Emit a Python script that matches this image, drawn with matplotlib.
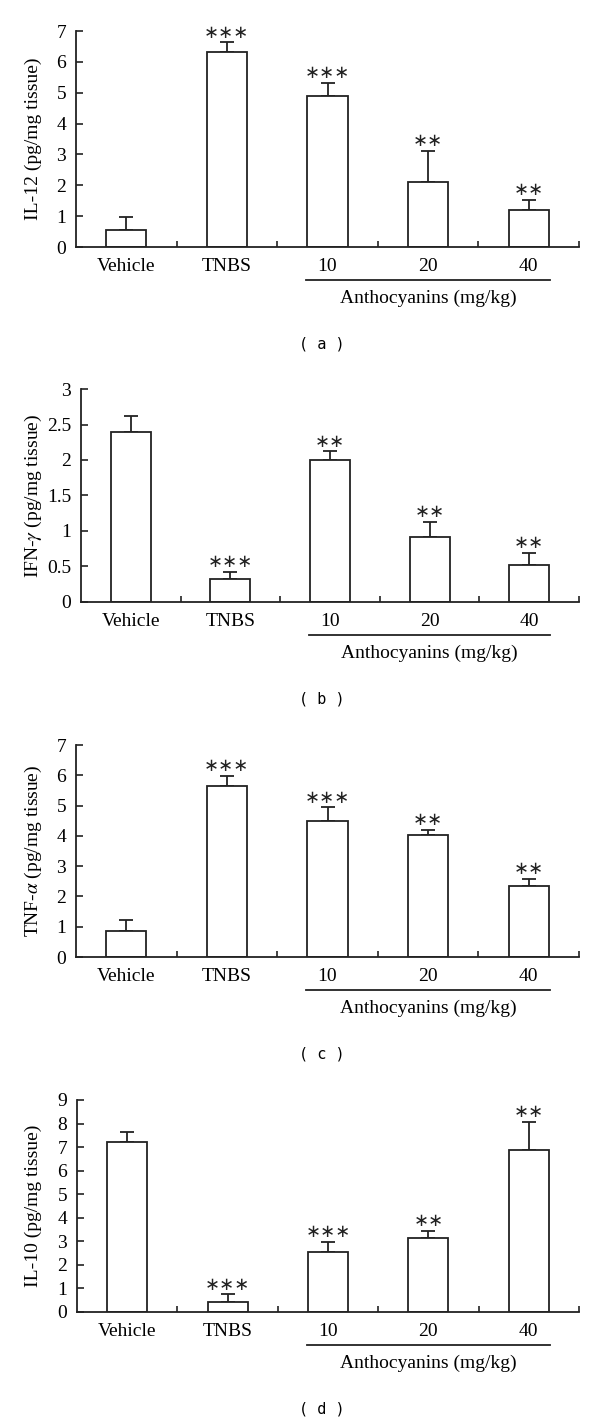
import numpy as np
import matplotlib
matplotlib.use("Agg")
import matplotlib.pyplot as plt

plt.rcParams["font.family"] = "Liberation Serif"
plt.rcParams["mathtext.fontset"] = "stix"

groups = ["Vehicle", "TNBS", "10", "20", "40"]

il12_mean = [0.54, 6.33, 4.88, 2.11, 1.20]
il12_err = [0.42, 0.30, 0.44, 1.00, 0.32]
il12_sig = ["", "***", "***", "**", "**"]

ifng_mean = [2.40, 0.33, 2.00, 0.91, 0.52]
ifng_err = [0.22, 0.09, 0.12, 0.22, 0.17]
ifng_sig = ["", "***", "**", "**", "**"]

tnfa_mean = [0.87, 5.66, 4.48, 4.04, 2.33]
tnfa_err = [0.34, 0.31, 0.46, 0.16, 0.26]
tnfa_sig = ["", "***", "***", "**", "**"]

il10_mean = [7.22, 0.44, 2.53, 3.14, 6.86]
il10_err = [0.42, 0.31, 0.44, 0.31, 1.22]
il10_sig = ["", "***", "***", "**", "**"]

panels = [
    ("IL-12 (pg/mg tissue)", il12_mean, il12_err, il12_sig, 7, [0, 1, 2, 3, 4, 5, 6, 7],
     ["0", "1", "2", "3", "4", "5", "6", "7"], "( a )"),
    ("IFN-$\\mathit{\\gamma}$ (pg/mg tissue)", ifng_mean, ifng_err, ifng_sig, 3,
     [0, 0.5, 1, 1.5, 2, 2.5, 3], ["0", "0.5", "1", "1.5", "2", "2.5", "3"], "( b )"),
    ("TNF-$\\mathit{\\alpha}$ (pg/mg tissue)", tnfa_mean, tnfa_err, tnfa_sig, 7, [0, 1, 2, 3, 4, 5, 6, 7],
     ["0", "1", "2", "3", "4", "5", "6", "7"], "( c )"),
    ("IL-10 (pg/mg tissue)", il10_mean, il10_err, il10_sig, 9, list(range(10)),
     [str(i) for i in range(10)], "( d )"),
]

# pixel layout of each panel: (left, right, y of zero, y of top)
W, H = 600, 1424
boxes = [(76, 579, 247, 31), (81, 579, 602, 389), (76, 579, 957, 745), (77, 579, 1312, 1100)]

fig = plt.figure(figsize=(W / 100, H / 100), dpi=100)
ink = "#222222"

for (ylab, mean, err, sig, ymax, yt, ytl, tag), (l, r, y0, y1) in zip(panels, boxes):
    ax = fig.add_axes([l / W, 1 - y0 / H, (r - l) / W, (y0 - y1) / H])
    x = np.arange(len(groups))
    ax.bar(x, mean, width=0.4, color="white", edgecolor=ink, linewidth=1.3, zorder=2)
    ax.errorbar(x, mean, yerr=[np.zeros(len(mean)), err], fmt="none", ecolor=ink,
                elinewidth=1.3, capsize=5, capthick=1.3, zorder=1)
    for xi, m, e, s in zip(x, mean, err, sig):
        if s:
            ax.annotate("\u2217" * len(s), (xi, m + e), xytext=(0, 7), textcoords="offset points",
                        ha="center", va="center", fontsize=13, family="DejaVu Sans", color=ink)

    ax.set_xlim(-0.5, 4.5)
    ax.set_ylim(0, ymax)
    for sp in ["top", "right"]:
        ax.spines[sp].set_visible(False)
    for sp in ["left", "bottom"]:
        ax.spines[sp].set_linewidth(1.3)
        ax.spines[sp].set_color(ink)

    ax.set_yticks(yt, ytl)
    ax.tick_params(axis="y", direction="in", length=5, width=1.2, color=ink, labelsize=14, pad=7)
    ax.set_xticks(x, groups)
    ax.tick_params(axis="x", which="major", length=0, labelsize=14, pad=8)
    ax.set_xticks([0.5, 1.5, 2.5, 3.5, 4.5], minor=True)
    ax.tick_params(axis="x", which="minor", direction="in", length=4, width=1.2, color=ink)

    # bracket under the anthocyanin doses
    ax.plot([1.79, 4.21], [-33 * ymax / (y0 - y1)] * 2, color=ink, lw=1.3, clip_on=False)
    ax.text(3.0, -51 * ymax / (y0 - y1), "Anthocyanins (mg/kg)", ha="center", va="center", fontsize=14)

    fig.text(33 / W, 1 - (y0 + y1) / 2 / H, ylab, rotation=90, ha="center", va="center", fontsize=14)
    fig.text(322 / W, 1 - (y0 + 97) / H, tag, ha="center", va="center", fontsize=11,
             family="DejaVu Sans Mono")

fig.savefig("out.png", dpi=100)
